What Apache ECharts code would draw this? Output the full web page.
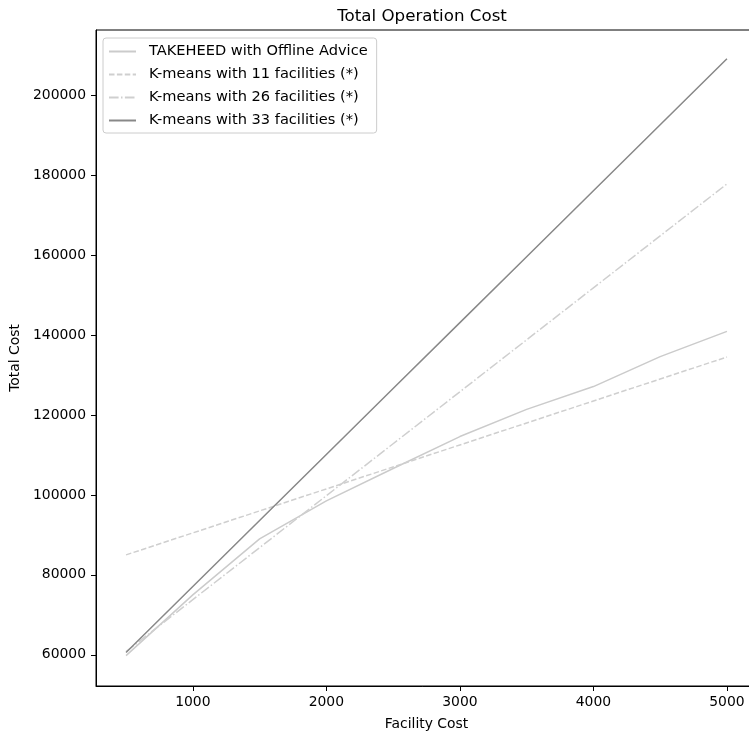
<!DOCTYPE html>
<html>
<head>
<meta charset="utf-8">
<script src="https://cdn.jsdelivr.net/npm/echarts@6/dist/echarts.min.js"></script>
<style>
  html, body { margin: 0; padding: 0; background: #fff; }
  #chart { width: 749px; height: 736px; }
</style>
</head>
<body>
<div id="chart"></div>
<script>
// Facility cost sample points (x axis)
const facilityCost = [500, 1000, 1500, 2000, 2500, 3000, 3500, 4000, 4500, 5000];

// Total cost per strategy
const takeheed = [59800, 75000, 89000, 98500, 106600, 114600, 121400, 127100, 134600, 140900];
const kmeans11 = [85000, 90500, 96000, 101500, 107000, 112500, 118000, 123500, 129000, 134500];
const kmeans26 = [60800, 73800, 86800, 99800, 112800, 125800, 138800, 151800, 164800, 177800];
const kmeans33 = [60600, 77100, 93600, 110100, 126600, 143100, 159600, 176100, 192600, 209100];

const seriesNames = [
  'TAKEHEED with Offline Advice',
  'K-means with 11 facilities (*)',
  'K-means with 26 facilities (*)',
  'K-means with 33 facilities (*)'
];

// Tick labels
const xTicks = [1000, 2000, 3000, 4000, 5000];
const yTicks = [60000, 80000, 100000, 120000, 140000, 160000, 180000, 200000];

const FONT = 'DejaVu Sans';

function pairs(ys) {
  return facilityCost.map((x, i) => [x, ys[i]]);
}

function lineSeries(name, ys, color, dash) {
  return {
    name: name,
    type: 'line',
    data: pairs(ys),
    symbol: 'none',
    showSymbol: false,
    lineStyle: { color: color, width: 1.5, type: dash },
    itemStyle: { color: color },
    emphasis: { disabled: true }
  };
}

const plain = v => String(v);

const chart = echarts.init(document.getElementById('chart'), null, { renderer: 'canvas' });

chart.setOption({
  animation: false,
  backgroundColor: '#ffffff',
  textStyle: { fontFamily: FONT },
  title: {
    text: 'Total Operation Cost',
    left: 417,
    top: 3,
    textAlign: 'center',
    textStyle: { fontFamily: FONT, fontSize: 16.7, fontWeight: 'normal', color: '#000' }
  },
  legend: {
    orient: 'vertical',
    left: 103,
    top: 38,
    itemWidth: 27,
    itemHeight: 14,
    itemGap: 8,
    padding: [6, 9, 5, 5],
    borderColor: '#cccccc',
    borderWidth: 1,
    borderRadius: 3,
    backgroundColor: 'rgba(255,255,255,0.8)',
    selectedMode: false,
    itemStyle: { color: 'transparent', borderWidth: 0, opacity: 0 },
    textStyle: { fontFamily: FONT, fontSize: 14.6, color: '#000', padding: [0, 0, 0, 8] },
    data: seriesNames
  },
  grid: {
    left: 96,
    top: 30,
    width: 661,
    height: 656,
    show: true,
    borderColor: '#000',
    borderWidth: 1,
    backgroundColor: 'transparent',
    containLabel: false,
    outerBoundsMode: 'none'
  },
  xAxis: {
    type: 'value',
    min: 275,
    max: 5225,
    name: 'Facility Cost',
    nameLocation: 'middle',
    nameGap: 31,
    nameTextStyle: { fontFamily: FONT, fontSize: 13.9, color: '#000' },
    axisLine: { show: true, lineStyle: { color: '#000', width: 1 } },
    axisTick: { show: true, length: 5, lineStyle: { color: '#000' }, customValues: xTicks },
    axisLabel: { fontFamily: FONT, fontSize: 13.9, color: '#000', margin: 9, customValues: xTicks, formatter: plain },
    splitLine: { show: false }
  },
  yAxis: {
    type: 'value',
    min: 52200,
    max: 216300,
    name: 'Total Cost',
    nameLocation: 'middle',
    nameGap: 74,
    nameTextStyle: { fontFamily: FONT, fontSize: 13.9, color: '#000' },
    axisLine: { show: true, lineStyle: { color: '#000', width: 1 } },
    axisTick: { show: true, length: 5, lineStyle: { color: '#000' }, customValues: yTicks },
    axisLabel: { fontFamily: FONT, fontSize: 13.9, color: '#000', margin: 10, customValues: yTicks, formatter: plain },
    splitLine: { show: false }
  },
  series: [
    lineSeries(seriesNames[0], takeheed, '#cbcbcb', 'solid'),
    lineSeries(seriesNames[1], kmeans11, '#cfcfcf', [5.5, 2.4]),
    lineSeries(seriesNames[2], kmeans26, '#cfcfcf', [9.6, 2.4, 1.5, 2.4]),
    lineSeries(seriesNames[3], kmeans33, '#888888', 'solid')
  ]
});
</script>
</body>
</html>
